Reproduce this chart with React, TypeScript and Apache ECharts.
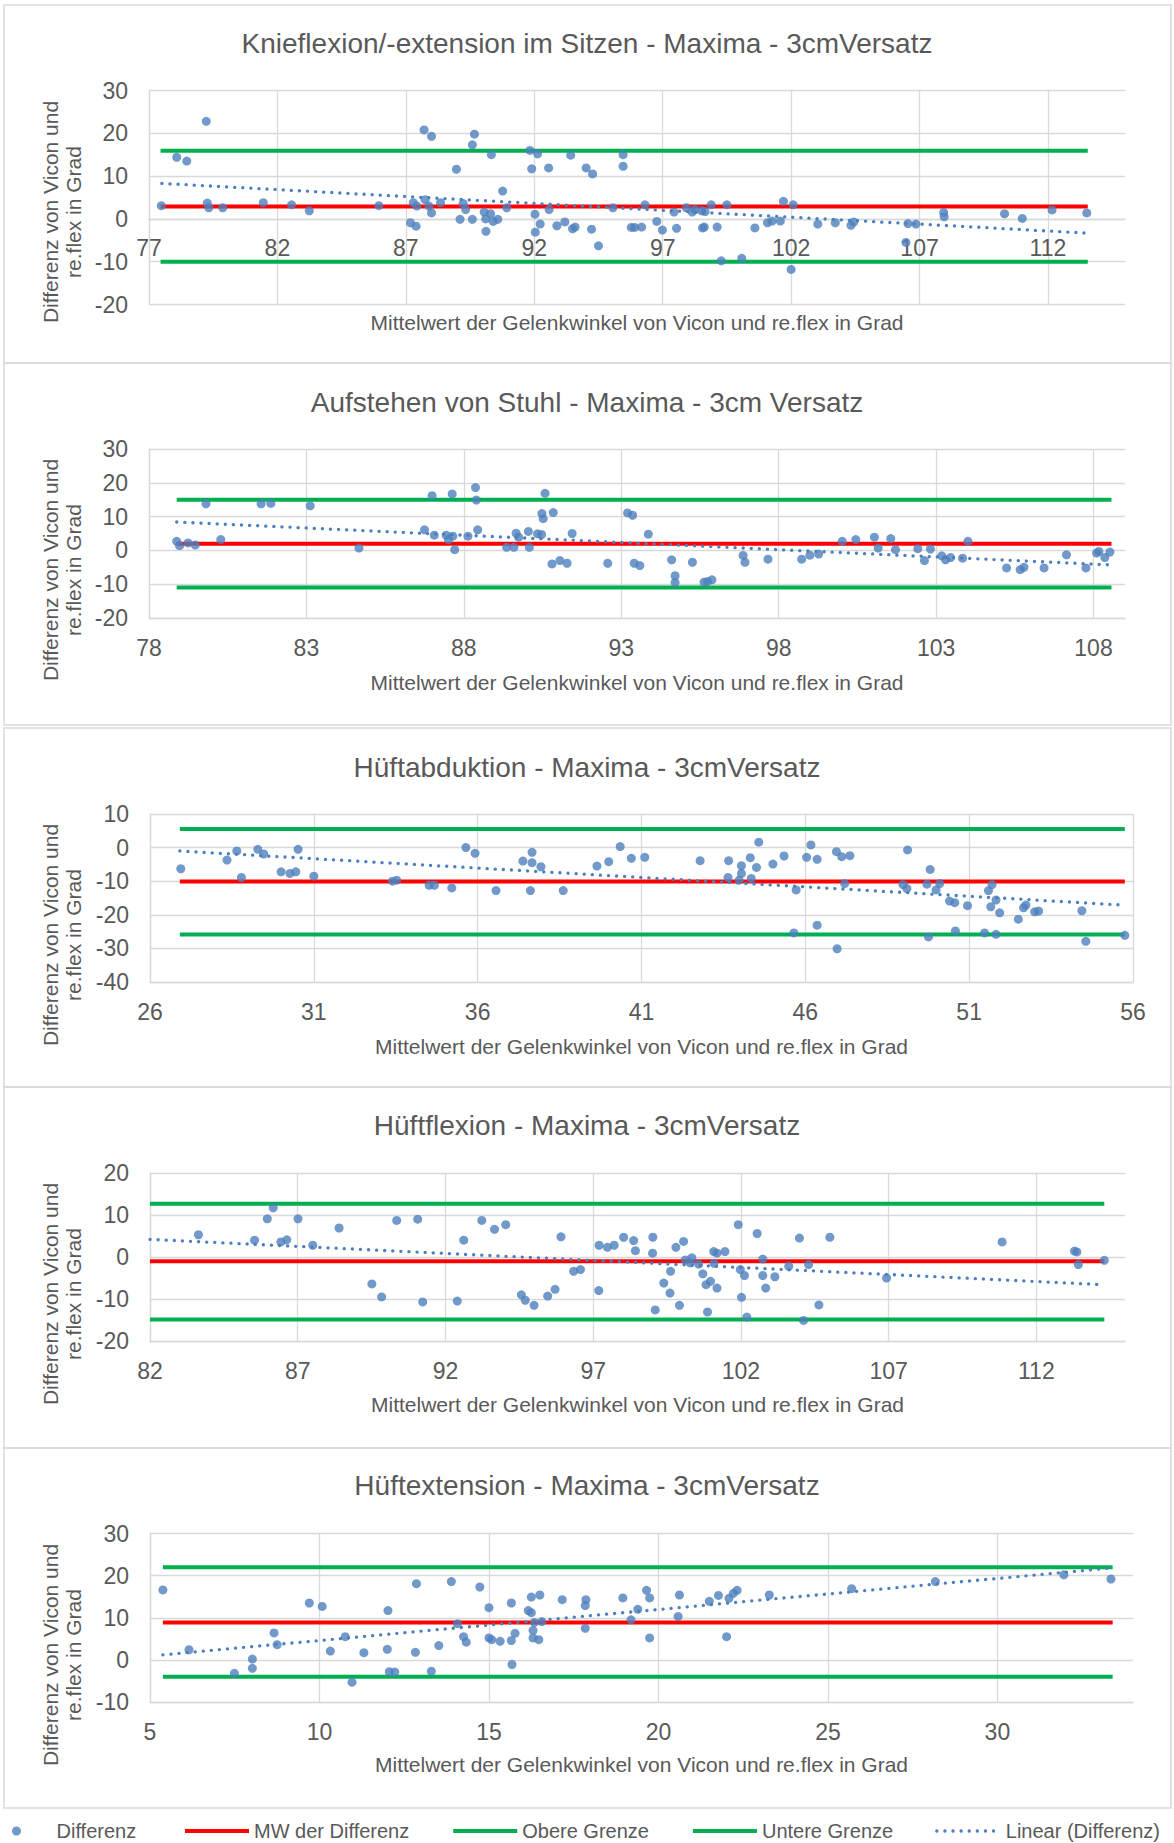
import React, { useEffect, useRef } from "react";
import * as echarts from "echarts";

// ---------- data ----------
const titles = [
  "Knieflexion/-extension im Sitzen - Maxima - 3cmVersatz",
  "Aufstehen von Stuhl - Maxima - 3cm Versatz",
  "Hüftabduktion - Maxima - 3cmVersatz",
  "Hüftflexion - Maxima - 3cmVersatz",
  "Hüftextension - Maxima - 3cmVersatz",
];
const xAxisTitle = "Mittelwert der Gelenkwinkel von Vicon und re.flex in Grad";
const yAxisTitle = "Differenz von Vicon und\nre.flex in Grad";
const legendNames = ["Differenz", "MW der Differenz", "Obere Grenze", "Untere Grenze", "Linear (Differenz)"];

// Panel 1: Knieflexion/-extension im Sitzen
const p1X = [77.48, 78.08, 78.47, 79.23, 79.27, 79.33, 79.87, 81.45, 82.55, 83.24, 85.95, 87.18, 87.4, 87.29, 87.43, 87.71, 88.0, 87.75, 87.9, 88.0, 88.35, 88.97, 89.11, 89.23, 89.33, 89.59, 89.67, 89.59, 90.33, 90.05, 90.11, 90.12, 90.3, 90.4, 90.58, 90.77, 90.93, 91.83, 92.13, 91.9, 92.56, 92.03, 92.23, 92.04, 92.58, 92.88, 93.19, 93.42, 93.49, 93.59, 94.02, 94.27, 94.23, 94.5, 95.06, 95.46, 95.46, 95.78, 95.91, 96.18, 96.31, 96.77, 96.99, 97.44, 97.54, 97.92, 98.15, 98.26, 98.52, 98.65, 98.55, 98.62, 98.89, 99.12, 99.28, 99.5, 100.08, 100.59, 101.08, 101.26, 101.58, 101.7, 102.08, 102.0, 103.04, 103.72, 104.33, 104.44, 106.47, 106.55, 106.86, 107.94, 107.96, 110.31, 111.0, 112.16, 113.51];
const p1Y = [3.1, 14.4, 13.5, 22.8, 3.7, 2.6, 2.6, 3.8, 3.3, 1.9, 3.1, -0.9, -1.7, 3.8, 3.0, 20.8, 19.3, 4.5, 3.0, 1.4, 3.8, 11.6, -0.1, 3.6, 2.2, 17.3, 19.8, -0.1, 15.0, 1.6, 0.0, -2.9, 1.2, -0.6, -0.1, 6.5, 2.6, 16.0, 15.2, 11.7, 11.9, 1.1, -1.2, -3.1, 2.2, -1.6, -0.7, 14.9, -2.3, -1.9, 11.9, 10.5, -2.4, -6.3, 2.6, 15.0, 12.3, -2.0, -2.0, -1.9, 3.3, -0.6, -2.6, 1.6, -2.2, 2.6, 1.6, 2.2, 1.9, 1.7, -2.1, -1.9, 3.3, -1.9, -9.8, 3.3, -9.2, -2.1, -0.9, -0.5, -0.5, 4.1, 3.3, -11.8, -1.2, -0.9, -1.5, -0.7, -5.5, -1.1, -1.2, 1.5, 0.5, 1.2, 0.1, 2.1, 1.4];

// Panel 2: Aufstehen von Stuhl
const p2X = [78.88, 78.97, 79.24, 79.47, 79.81, 80.28, 81.56, 81.87, 83.12, 84.67, 86.75, 86.99, 87.06, 87.44, 87.51, 87.63, 87.65, 87.71, 88.13, 88.37, 88.4, 88.44, 89.36, 89.59, 89.66, 89.74, 90.05, 90.08, 90.34, 90.47, 90.48, 90.52, 90.58, 90.84, 90.8, 91.05, 91.28, 91.44, 92.57, 93.2, 93.36, 93.41, 93.59, 93.86, 94.6, 94.71, 94.71, 95.26, 95.63, 95.74, 95.88, 96.87, 96.93, 97.66, 98.73, 98.99, 99.27, 100.02, 100.45, 101.04, 101.16, 101.56, 101.71, 102.42, 102.63, 102.82, 103.18, 103.3, 103.46, 103.84, 104.01, 105.24, 105.67, 105.79, 106.43, 107.14, 107.76, 108.1, 108.17, 108.36, 108.52];
const p2Y = [2.7, 1.4, 2.2, 1.6, 13.8, 3.2, 13.8, 13.9, 13.2, 0.7, 6.1, 16.2, 4.5, 4.5, 3.2, 16.7, 4.2, 0.2, 4.2, 18.6, 14.9, 6.1, 0.9, 0.9, 5.1, 3.9, 5.6, 0.9, 4.9, 4.7, 10.9, 9.4, 16.9, 11.2, -4.0, -3.0, -3.8, 5.0, -3.8, 11.1, 10.4, -3.8, -4.5, 4.8, -2.8, -7.5, -9.5, -3.5, -9.4, -9.2, -8.7, -1.5, -3.5, -2.6, -2.6, -1.4, -1.1, 2.7, 3.2, 3.9, 0.7, 3.5, 0.2, 0.5, -3.0, 0.4, -1.6, -2.8, -2.1, -2.3, 2.7, -5.2, -5.7, -5.0, -5.2, -1.3, -5.2, -0.8, -0.3, -2.1, -0.5];

// Panel 3: Hüftabduktion
const p3X = [26.94, 28.35, 28.65, 28.79, 29.29, 29.47, 30.0, 30.27, 30.45, 30.52, 31.0, 33.4, 33.53, 34.52, 34.68, 35.21, 35.64, 35.92, 36.56, 37.38, 37.61, 37.66, 37.66, 37.93, 38.61, 39.64, 40.0, 40.35, 40.69, 41.1, 42.79, 43.64, 43.66, 43.98, 44.05, 44.05, 44.32, 44.35, 44.51, 44.58, 45.01, 45.35, 45.65, 45.72, 46.04, 46.17, 46.36, 46.36, 46.95, 46.97, 47.11, 47.2, 47.36, 48.98, 49.1, 49.12, 49.71, 49.76, 49.81, 49.99, 50.1, 50.4, 50.56, 50.58, 50.95, 51.47, 51.59, 51.7, 51.66, 51.82, 51.82, 51.93, 52.5, 52.66, 52.73, 53.0, 53.12, 54.44, 54.56, 55.75];
const p3Y = [-6.3, -3.7, -1.0, -8.9, -0.5, -1.9, -7.2, -7.7, -7.2, -0.5, -8.5, -10.0, -9.7, -11.2, -11.2, -12.0, 0.0, -1.7, -12.8, -4.0, -12.8, -1.4, -4.5, -5.7, -12.8, -5.5, -4.2, 0.3, -3.2, -2.9, -3.9, -8.9, -3.9, -9.7, -7.7, -5.4, -3.0, -9.2, -5.9, 1.6, -4.9, -2.5, -25.4, -12.6, -2.9, 0.8, -3.5, -23.1, -1.2, -30.1, -2.7, -10.7, -2.4, -11.0, -12.2, -0.7, -10.9, -26.6, -6.5, -12.6, -10.7, -15.9, -16.4, -24.8, -17.3, -25.4, -12.8, -11.0, -17.6, -15.6, -25.8, -19.4, -21.3, -17.9, -17.1, -19.1, -18.9, -18.8, -27.9, -26.1];

// Panel 4: Hüftflexion
const p4X = [83.64, 85.54, 85.97, 86.17, 86.43, 86.63, 87.01, 87.51, 88.4, 89.51, 89.84, 90.35, 91.06, 91.23, 92.4, 92.62, 93.23, 93.66, 94.04, 94.57, 94.7, 95.0, 95.46, 95.71, 95.91, 96.34, 96.57, 97.19, 97.2, 97.48, 97.71, 98.03, 98.37, 98.43, 99.02, 99.01, 99.1, 99.39, 99.6, 99.62, 99.8, 99.92, 100.06, 100.12, 100.34, 100.28, 100.57, 100.71, 100.82, 100.97, 100.87, 101.08, 101.19, 101.09, 101.19, 101.46, 101.91, 101.98, 102.02, 102.12, 102.2, 102.55, 102.74, 102.74, 102.84, 103.15, 103.62, 103.98, 104.12, 104.29, 104.64, 105.01, 106.93, 110.84, 113.29, 113.37, 113.42, 114.3];
const p4Y = [5.3, 4.0, 9.1, 11.7, 3.6, 4.1, 9.1, 2.8, 6.9, -6.4, -9.5, 8.7, 9.0, -10.7, -10.5, 4.0, 8.7, 6.6, 7.7, -9.0, -10.3, -11.5, -9.3, -7.7, 4.8, -3.4, -3.0, -8.0, 2.8, 2.3, 2.8, 4.7, 3.9, 1.5, 4.7, 0.9, -12.6, -6.2, -8.6, -3.4, 2.3, -11.5, 3.7, -0.7, -0.2, -1.4, -1.7, -4.0, -6.6, -5.8, -13.1, 1.3, 0.9, -1.5, -7.4, 1.3, 7.7, -3.0, -9.6, -4.4, -14.3, 5.6, -0.5, -4.4, -7.4, -4.7, -2.2, 4.5, -15.1, -1.8, -11.4, 4.7, -5.0, 3.6, 1.4, 1.2, -1.8, -0.8];

// Panel 5: Hüftextension
const p5X = [5.38, 6.15, 7.49, 8.02, 8.02, 8.66, 8.75, 9.7, 10.08, 10.32, 10.76, 10.96, 11.31, 12.02, 12.0, 12.06, 12.22, 12.86, 12.83, 13.3, 13.52, 13.89, 14.07, 14.25, 14.33, 14.73, 15.0, 15.0, 15.08, 15.33, 15.66, 15.66, 15.68, 15.77, 16.16, 16.25, 16.25, 16.3, 16.3, 16.34, 16.5, 16.47, 16.56, 17.16, 17.84, 17.86, 17.84, 18.95, 19.19, 19.39, 19.65, 19.74, 19.74, 20.58, 20.62, 21.5, 21.77, 22.01, 22.08, 22.21, 22.32, 23.27, 25.7, 28.17, 31.96, 33.35];
const p5Y = [16.6, 2.4, -3.2, 0.2, -2.0, 6.4, 3.6, 13.5, 12.7, 2.1, 5.5, -5.3, 1.7, 11.7, 2.5, -2.8, -2.9, 18.1, 1.8, -2.7, 3.4, 18.6, 8.6, 5.5, 4.2, 17.3, 12.4, 5.2, 4.8, 4.4, 13.5, 4.6, -1.1, 6.3, 11.7, 11.2, 14.9, 7.0, 5.2, 8.9, 15.4, 4.8, 9.1, 14.3, 12.9, 14.3, 7.5, 14.7, 9.5, 12.0, 16.5, 14.7, 5.2, 10.3, 15.4, 13.9, 15.3, 5.5, 14.6, 15.8, 16.5, 15.4, 16.9, 18.6, 20.2, 19.2];

const pointsX = [p1X, p2X, p3X, p4X, p5X];
const pointsY = [p1Y, p2Y, p3Y, p4Y, p5Y];

// mean line, limits of agreement, and their x extent
const meanVals = [2.9, 2.0, -10.1, -1.0, 8.9];
const upperVals = [15.9, 15.0, 5.5, 12.7, 22.0];
const lowerVals = [-10.0, -11.0, -25.9, -14.9, -4.0];
const lineStartX = [77.45, 78.88, 26.91, 82.0, 5.38];
const lineEndX = [113.55, 108.57, 55.75, 114.3, 33.4];
// linear trend line end points
const trendStartX = [77.5, 78.88, 26.91, 82.0, 5.38];
const trendEndX = [113.48, 108.57, 55.7, 114.3, 33.35];
const trendStartY = [8.3, 8.4, -1.0, 4.2, 1.2];
const trendEndY = [-3.3, -4.3, -17.1, -6.6, 21.8];

// axis ranges
const xMin = [77, 78, 26, 82, 5];
const xMax = [115, 109, 56, 115, 34];
const yMin = [-20, -20, -40, -20, -10];
const yMax = [30, 30, 10, 20, 30];
const tickStep = [5, 5, 5, 5, 5];
const yStep = [10, 10, 10, 10, 10];

// ---------- layout / style ----------
const W = 1174;
const H = 1843;
const FONT = '"Liberation Sans", Arial, Helvetica, sans-serif';
const TXT = "#595959";
const GRIDC = "#d9d9d9";
const BLUE = "#4e7fbd";
const RED = "#ff0000";
const GREEN = "#00b050";
const DOTS = { color: BLUE, width: 3.3, type: [0.1, 8] as number[], cap: "round" };

const boxTop = [5, 363, 728, 1087, 1448];
const boxBottom = [363, 725, 1087, 1448, 1808];
const grids = [
  { left: 149, top: 90.5, width: 976, height: 214 },
  { left: 149, top: 449, width: 976, height: 169 },
  { left: 150, top: 814, width: 983, height: 168 },
  { left: 150, top: 1173, width: 975, height: 168 },
  { left: 150, top: 1533.5, width: 983, height: 168.5 },
];
const titleCenterY = [43, 402, 767, 1125, 1485];
const xTitleCenterY = [322, 682, 1046, 1404, 1764];

function buildOption() {
  const series: any[] = [];
  const xAxes: any[] = [];
  const yAxes: any[] = [];
  const graphic: any[] = [];
  const title: any[] = [];

  for (let i = 0; i < 5; i++) {
    title.push({
      text: titles[i],
      left: "center",
      top: titleCenterY[i] - 16,
      padding: 0,
      textStyle: { fontFamily: FONT, fontSize: 28, fontWeight: "normal", color: TXT, lineHeight: 32 },
    });
    // panel 1: horizontal axis crosses at value 0 (labels sit next to the zero line)
    const zeroOffset =
      i === 0 ? -(grids[i].height * (0 - yMin[i])) / (yMax[i] - yMin[i]) : 0;
    xAxes.push({
      type: "value",
      gridIndex: i,
      position: "bottom",
      offset: zeroOffset,
      min: xMin[i],
      max: xMax[i],
      interval: tickStep[i],
      axisLine: { show: true, onZero: false, lineStyle: { color: GRIDC, width: 1.3 } },
      axisTick: { show: false },
      axisLabel: {
        color: TXT,
        fontFamily: FONT,
        fontSize: 23,
        margin: 18,
        showMinLabel: true,
        showMaxLabel: xMax[i] === 56,
      },
      splitLine: { show: true, showMaxLine: xMax[i] === 56, lineStyle: { color: GRIDC, width: 1.3 } },
    });
    yAxes.push({
      type: "value",
      gridIndex: i,
      min: yMin[i],
      max: yMax[i],
      interval: yStep[i],
      axisLine: { show: true, onZero: false, lineStyle: { color: GRIDC, width: 1.3 } },
      axisTick: { show: false },
      axisLabel: { color: TXT, fontFamily: FONT, fontSize: 23, margin: 21 },
      splitLine: { show: true, lineStyle: { color: GRIDC, width: 1.3 } },
    });

    const pts = pointsX[i].map((x, k) => [x, pointsY[i][k]]);
    series.push({
      type: "scatter",
      name: legendNames[0],
      xAxisIndex: i,
      yAxisIndex: i,
      data: pts,
      symbol: "circle",
      symbolSize: 9,
      itemStyle: { color: BLUE },
      z: 3,
      silent: true,
    });
    const hline = (name: string, v: number, color: string, z: number) => ({
      type: "line",
      name,
      xAxisIndex: i,
      yAxisIndex: i,
      data: [
        [lineStartX[i], v],
        [lineEndX[i], v],
      ],
      symbol: "none",
      lineStyle: { color, width: 4 },
      itemStyle: { color },
      z,
      silent: true,
    });
    series.push(hline(legendNames[1], meanVals[i], RED, 2));
    series.push(hline(legendNames[2], upperVals[i], GREEN, 2));
    series.push(hline(legendNames[3], lowerVals[i], GREEN, 2));
    series.push({
      type: "line",
      name: legendNames[4],
      xAxisIndex: i,
      yAxisIndex: i,
      data: [
        [trendStartX[i], trendStartY[i]],
        [trendEndX[i], trendEndY[i]],
      ],
      symbol: "none",
      lineStyle: DOTS,
      itemStyle: { color: BLUE },
      z: 4,
      silent: true,
    });

    // panel frame
    graphic.push({
      type: "rect",
      shape: { x: 4, y: boxTop[i], width: 1167, height: boxBottom[i] - boxTop[i] },
      style: { fill: "none", stroke: GRIDC, lineWidth: 1.5 },
      silent: true,
      z: -10,
    });
    // y axis title
    graphic.push({
      type: "text",
      x: 61.5,
      y: boxTop[i] + 207,
      rotation: Math.PI / 2,
      style: {
        text: yAxisTitle,
        fontFamily: FONT,
        fontSize: 21,
        lineHeight: 23,
        fill: TXT,
        align: "center",
        verticalAlign: "middle",
      },
      silent: true,
    });
    // x axis title
    graphic.push({
      type: "text",
      x: grids[i].left + grids[i].width / 2,
      y: xTitleCenterY[i],
      style: {
        text: xAxisTitle,
        fontFamily: FONT,
        fontSize: 21,
        fill: TXT,
        align: "center",
        verticalAlign: "middle",
      },
      silent: true,
    });
  }

  const legendText = { fontFamily: FONT, fontSize: 20, color: TXT };
  const legendLine = [
    { color: RED, width: 4 },
    { color: GREEN, width: 4 },
    { color: GREEN, width: 4 },
    DOTS,
  ];
  return {
    animation: false,
    backgroundColor: "#ffffff",
    title,
    grid: grids.map((g) => ({ ...g, containLabel: false })),
    xAxis: xAxes,
    yAxis: yAxes,
    legend: [
      {
        data: [{ name: legendNames[0] }],
        left: 12,
        top: 1821,
        padding: 0,
        itemWidth: 10,
        itemHeight: 9,
        textStyle: { ...legendText, padding: [0, 0, 0, 30] },
        selectedMode: false,
      },
      {
        data: legendNames.slice(1).map((n, k) => ({
          name: n,
          itemStyle: { opacity: 0 },
          lineStyle: legendLine[k],
        })),
        left: 183,
        top: 1821,
        padding: 0,
        itemWidth: 64,
        itemHeight: 9,
        itemGap: 42,
        textStyle: legendText,
        selectedMode: false,
      },
    ],
    graphic,
    series,
  };
}

export default function App() {
  const ref = useRef<HTMLDivElement>(null);
  useEffect(() => {
    document.body.style.margin = "0";
    if (!ref.current) return;
    const chart = echarts.init(ref.current, undefined, { renderer: "svg" });
    chart.setOption(buildOption() as any);
    return () => {
      chart.dispose();
    };
  }, []);
  return <div ref={ref} style={{ width: W, height: H, position: "absolute", left: 0, top: 0 }} />;
}
